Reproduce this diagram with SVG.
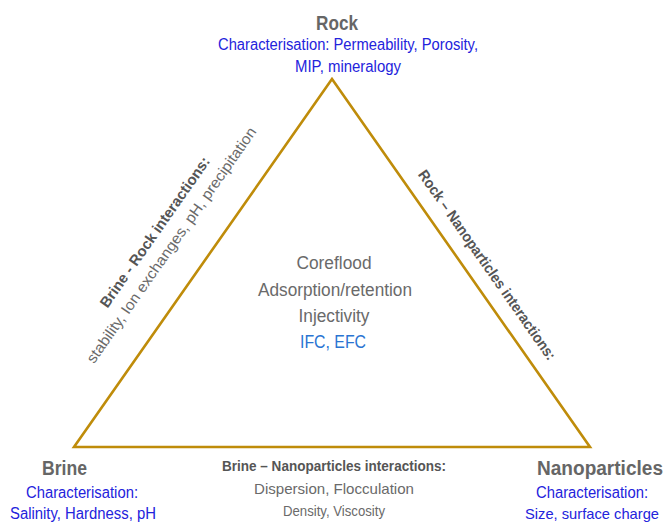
<svg xmlns="http://www.w3.org/2000/svg" width="668" height="526" viewBox="0 0 668 526">
<style>
text{font-family:"Liberation Sans",Arial,sans-serif;text-anchor:middle}
.title{font-size:20px;font-weight:bold;fill:#666}
.blue{font-size:16px;fill:#2323dc}
.lbl{font-size:15px;font-weight:bold;fill:#555}
.gray{font-size:15px;fill:#6a6a6a}
.center{font-size:18px;fill:#6a6a6a}
.lblue{font-size:18px;fill:#2a74d2}
</style>
<rect width="668" height="526" fill="#fff"/>
<g id="connectors">
<polygon points="332,79 74,447 590,447" fill="none" stroke="#bf8c0a" stroke-width="2.6" stroke-linejoin="miter"/>
</g>
<g id="rock">
<text class="title" x="337" y="30" textLength="42" lengthAdjust="spacingAndGlyphs">Rock</text>
<text class="blue" x="348" y="50" textLength="260" lengthAdjust="spacingAndGlyphs">Characterisation: Permeability, Porosity,</text>
<text class="blue" x="348" y="72" textLength="106" lengthAdjust="spacingAndGlyphs">MIP, mineralogy</text>
</g>
<g id="brine">
<text class="title" x="64.5" y="475" textLength="45" lengthAdjust="spacingAndGlyphs">Brine</text>
<text class="blue" x="82" y="498" textLength="112" lengthAdjust="spacingAndGlyphs">Characterisation:</text>
<text class="blue" x="83" y="519" textLength="146" lengthAdjust="spacingAndGlyphs">Salinity, Hardness, pH</text>
</g>
<g id="nanoparticles">
<text class="title" x="600" y="475" textLength="126" lengthAdjust="spacingAndGlyphs">Nanoparticles</text>
<text class="blue" x="592" y="498" textLength="112" lengthAdjust="spacingAndGlyphs">Characterisation:</text>
<text class="blue" x="592" y="519" textLength="134" lengthAdjust="spacingAndGlyphs" style="font-size:15px">Size, surface charge</text>
</g>
<g id="center">
<text class="center" x="334" y="269" textLength="75" lengthAdjust="spacingAndGlyphs">Coreflood</text>
<text class="center" x="335" y="296" textLength="154" lengthAdjust="spacingAndGlyphs">Adsorption/retention</text>
<text class="center" x="334" y="322" textLength="71" lengthAdjust="spacingAndGlyphs">Injectivity</text>
<text class="lblue" x="333" y="348" textLength="66" lengthAdjust="spacingAndGlyphs">IFC, EFC</text>
</g>
<g id="brine-rock">
<text class="lbl" transform="translate(159,235) rotate(-55)" textLength="180" lengthAdjust="spacingAndGlyphs">Brine  - Rock interactions:</text>
<text class="gray" transform="translate(175.5,248) rotate(-55)" textLength="284" lengthAdjust="spacingAndGlyphs">stability, Ion exchanges, pH, precipitation</text>
</g>
<g id="rock-nano">
<text class="lbl" transform="translate(483,268) rotate(55)" textLength="228" lengthAdjust="spacingAndGlyphs">Rock – Nanoparticles interactions:</text>
</g>
<g id="brine-nano">
<text class="lbl" x="334" y="471" textLength="224" lengthAdjust="spacingAndGlyphs">Brine – Nanoparticles interactions:</text>
<text class="gray" x="334" y="494" textLength="160" lengthAdjust="spacingAndGlyphs">Dispersion, Flocculation</text>
<text class="gray" x="334" y="516" textLength="102" lengthAdjust="spacingAndGlyphs">Density, Viscosity</text>
</g>
</svg>
